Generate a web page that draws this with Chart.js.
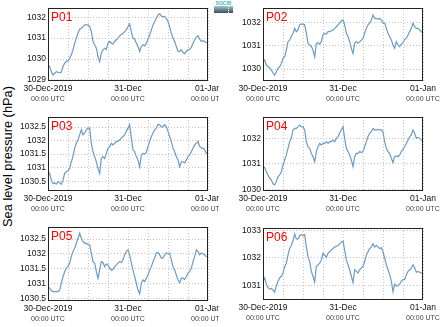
<!DOCTYPE html>
<html><head><meta charset="utf-8">
<script src="https://cdn.jsdelivr.net/npm/chart.js@4.4.1/dist/chart.umd.min.js"></script>
<style>
html,body{margin:0;padding:0;background:#fff;}
body{width:441px;height:327px;position:relative;overflow:hidden;font-family:"Liberation Sans",Arial,sans-serif;}
canvas{position:absolute;}
#ylab{position:absolute;left:-93px;top:150px;width:200px;height:13px;line-height:13px;text-align:center;font-size:12.8px;color:#000;white-space:nowrap;transform:rotate(-90deg);}
#logo{position:absolute;left:214px;top:1px;width:19px;height:12px;}
#logo .t{font-size:5px;line-height:5px;color:#3fb8c4;font-weight:bold;letter-spacing:0px;text-align:center;}
#logo .b{height:7px;background:linear-gradient(#9fc7cc,#3b4d58);position:relative;}
#logo .b i{position:absolute;left:14px;top:0;height:7px;border-left:1px dotted #fff;}
</style></head>
<body>
<div id="ylab">Sea level pressure (hPa)</div>
<div id="logo"><div class="t">SOCIB</div><div class="b"><i></i></div></div>
<canvas id="c1"></canvas><canvas id="c2"></canvas><canvas id="c3"></canvas>
<canvas id="c4"></canvas><canvas id="c5"></canvas><canvas id="c6"></canvas>
<script>
// time axis: hours after 30-Dec-2019 00:00 UTC
const HOURS_SPAN = 48;
const xGridHours = [0, 6, 12, 18, 24, 30, 36, 42, 48];
const xTickHours = [0, 24, 48];
const xTickLabels = ["30-Dec-2019", "31-Dec", "01-Jan"];
const xTickSubLabels = ["00:00 UTC", "00:00 UTC", "00:00 UTC"];
const panelNames = ["P01", "P02", "P03", "P04", "P05", "P06"];

// sea level pressure (hPa), half-hourly
const p01 = [1029.72,1029.64,1029.40,1029.24,1029.32,1029.40,1029.37,1029.35,1029.37,1029.64,
1029.80,1029.88,1029.91,1030.04,1030.20,1030.44,1030.76,1031.00,1031.23,1031.43,
1031.47,1031.55,1031.63,1031.63,1031.63,1031.55,1031.31,1030.84,1030.68,1030.52,
1030.12,1029.88,1030.28,1030.44,1030.52,1030.47,1030.76,1030.84,1030.76,1030.72,
1030.84,1030.92,1031.00,1031.11,1031.17,1031.23,1031.31,1031.39,1031.55,1031.68,
1031.31,1031.00,1030.95,1030.76,1030.60,1030.36,1030.60,1030.68,1030.63,1030.76,
1030.95,1031.15,1031.39,1031.63,1031.79,1031.95,1032.11,1032.16,1032.06,1032.03,
1032.03,1031.95,1031.79,1031.55,1031.23,1031.00,1030.84,1030.60,1030.36,1030.36,
1030.44,1030.31,1030.25,1030.36,1030.44,1030.47,1030.56,1030.76,1030.92,1031.04,
1031.11,1030.95,1030.84,1030.88,1030.84,1030.79,1030.76];
const p02 = [1030.31,1030.39,1030.17,1030.10,1030.06,1029.96,1029.84,1029.74,1029.89,1030.03,
1030.10,1030.24,1030.46,1030.53,1030.81,1031.17,1031.24,1031.39,1031.53,1031.74,
1031.60,1031.67,1031.89,1031.93,1031.91,1031.89,1031.53,1031.10,1031.03,1030.96,
1030.81,1030.53,1031.10,1031.13,1031.06,1031.17,1031.46,1031.53,1031.49,1031.60,
1031.60,1031.64,1031.67,1031.74,1031.81,1031.89,1031.96,1032.07,1032.10,1031.89,
1031.53,1031.39,1031.17,1030.89,1030.67,1031.10,1031.17,1031.10,1031.17,1031.24,
1031.31,1031.53,1031.74,1031.89,1031.96,1032.10,1032.31,1032.17,1032.17,1032.13,
1032.17,1032.10,1031.96,1031.96,1031.74,1031.53,1031.39,1031.24,1031.03,1030.89,
1031.17,1031.03,1030.96,1031.07,1031.13,1031.27,1031.31,1031.46,1031.60,1031.74,
1031.96,1031.81,1031.74,1031.74,1031.67,1031.60,1031.53];
const p03 = [1030.85,1030.79,1030.54,1030.41,1030.44,1030.39,1030.48,1030.44,1030.39,1030.54,
1030.79,1030.85,1030.89,1030.97,1031.22,1031.41,1031.72,1031.90,1032.03,1032.21,
1032.40,1032.21,1032.28,1032.40,1032.46,1032.46,1031.90,1031.59,1031.41,1031.22,
1030.97,1030.79,1031.34,1031.41,1031.34,1031.53,1031.72,1031.78,1031.90,1031.84,
1031.90,1031.97,1031.97,1032.03,1032.09,1032.15,1032.21,1032.34,1032.46,1032.59,
1032.09,1031.66,1031.59,1031.41,1031.28,1031.03,1031.47,1031.53,1031.51,1031.56,
1031.78,1031.97,1032.15,1032.28,1032.40,1032.46,1032.59,1032.59,1032.50,1032.52,
1032.59,1032.52,1032.34,1032.15,1031.97,1031.72,1031.59,1031.41,1031.28,1031.03,
1031.22,1031.22,1031.18,1031.28,1031.41,1031.47,1031.59,1031.72,1031.84,1031.90,
1031.97,1031.78,1031.72,1031.72,1031.66,1031.53,1031.56];
const p04 = [1030.82,1030.86,1030.69,1030.56,1030.43,1030.37,1030.21,1030.17,1030.30,1030.50,
1030.56,1030.69,1030.95,1031.15,1031.35,1031.61,1031.87,1032.00,1032.33,1032.39,
1032.39,1032.46,1032.52,1032.46,1032.46,1032.33,1031.87,1031.67,1031.61,1031.41,
1031.28,1031.08,1031.48,1031.67,1031.80,1031.74,1031.80,1031.80,1031.87,1031.80,
1031.87,1031.87,1031.93,1031.87,1032.00,1032.07,1032.20,1032.33,1032.46,1032.00,
1031.61,1031.48,1031.35,1031.15,1030.89,1031.28,1031.41,1031.41,1031.48,1031.44,
1031.48,1031.67,1031.87,1032.07,1032.20,1032.26,1032.39,1032.33,1032.33,1032.35,
1032.33,1032.33,1032.26,1031.87,1031.61,1031.48,1031.41,1031.22,1031.05,1031.28,
1031.31,1031.28,1031.35,1031.48,1031.57,1031.67,1031.80,1031.93,1032.07,1032.13,
1032.33,1032.20,1032.00,1032.04,1032.00,1031.93,1031.87];
const p05 = [1030.90,1030.84,1030.76,1030.73,1030.73,1030.73,1030.73,1030.78,1031.01,1031.23,
1031.40,1031.52,1031.57,1031.69,1031.91,1032.08,1032.19,1032.36,1032.53,1032.70,
1032.53,1032.42,1032.36,1032.36,1032.31,1032.31,1032.03,1031.74,1031.69,1031.40,
1031.18,1031.46,1031.74,1031.71,1031.57,1031.66,1031.63,1031.52,1031.44,1031.48,
1031.57,1031.63,1031.69,1031.74,1031.71,1031.80,1031.97,1032.08,1032.14,1031.97,
1031.69,1031.46,1031.23,1031.01,1030.78,1030.65,1031.01,1031.12,1031.07,1031.18,
1031.29,1031.46,1031.57,1031.74,1031.86,1032.03,1032.05,1031.97,1031.86,1031.86,
1031.97,1032.03,1032.00,1032.03,1031.80,1031.57,1031.46,1031.29,1031.12,1031.03,
1031.18,1031.18,1031.14,1031.23,1031.35,1031.40,1031.52,1031.74,1031.91,1032.14,
1032.08,1031.97,1032.03,1032.00,1031.97,1031.91,1031.89];
const p06 = [1031.15,1031.27,1031.04,1030.92,1030.86,1030.88,1030.83,1030.74,1030.98,1031.15,
1031.27,1031.33,1031.45,1031.69,1031.81,1032.11,1032.35,1032.46,1032.64,1032.88,
1032.70,1032.70,1032.82,1032.86,1032.82,1032.86,1032.40,1032.05,1031.87,1031.51,
1031.33,1031.12,1031.69,1031.75,1031.81,1031.93,1032.17,1032.11,1032.02,1032.17,
1032.23,1032.29,1032.35,1032.40,1032.43,1032.46,1032.52,1032.58,1032.62,1032.29,
1031.93,1031.75,1031.57,1031.33,1031.10,1031.57,1031.51,1031.45,1031.57,1031.63,
1031.69,1031.87,1032.11,1032.23,1032.35,1032.40,1032.52,1032.40,1032.46,1032.40,
1032.35,1032.38,1032.23,1031.99,1031.75,1031.57,1031.39,1031.15,1030.76,1031.04,
1030.98,1030.98,1031.04,1031.15,1031.21,1031.21,1031.39,1031.51,1031.57,1031.63,
1031.75,1031.63,1031.48,1031.51,1031.48,1031.45,1031.43];

// y-axis ticks and ranges
const yTicks1 = [1029, 1030, 1031, 1032];
const yTicks2 = [1030, 1031, 1032];
const yTicks3 = [1030.5, 1031, 1031.5, 1032, 1032.5];
const yTicks4 = [1030, 1031, 1032];
const yTicks5 = [1030.5, 1031, 1031.5, 1032, 1032.5];
const yTicks6 = [1031, 1032, 1033];
const yRange1 = [1028.95, 1032.44];
const yRange2 = [1029.49, 1032.61];
const yRange3 = [1030.14, 1032.87];
const yRange4 = [1029.93, 1032.84];
const yRange5 = [1030.41, 1032.91];
const yRange6 = [1030.46, 1033.10];

const FONT = '"Liberation Sans", Arial, sans-serif';
const LINE_COLOR = '#6c9bc6';

const panelDecor = {
  id: 'panelDecor',
  afterDraw(chart, args, o) {
    const ctx = chart.ctx, a = chart.chartArea, xs = chart.scales.x;
    ctx.save();
    ctx.strokeStyle = '#222';
    ctx.lineWidth = 1;
    ctx.strokeRect(Math.round(a.left) + 0.5, Math.round(a.top) + 0.5,
      Math.round(a.right - a.left) - 1, Math.round(a.bottom - a.top) - 1);
    ctx.textAlign = 'center';
    ctx.textBaseline = 'middle';
    xTickHours.forEach((h, i) => {
      const px = xs.getPixelForValue(h);
      ctx.fillStyle = '#111';
      ctx.font = '8.5px ' + FONT;
      ctx.fillText(xTickLabels[i], px, a.bottom + 8);
      ctx.fillStyle = '#444';
      ctx.font = '7px ' + FONT;
      ctx.fillText(xTickSubLabels[i], px, a.bottom + 17.7);
    });
    ctx.fillStyle = '#ff0000';
    ctx.font = '12px ' + FONT;
    ctx.textAlign = 'left';
    ctx.textBaseline = 'alphabetic';
    ctx.fillText(o.name, a.left + 3, a.top + 13);
    ctx.restore();
  }
};

function makePanel(id, name, values, yRange, yTicks, box) {
  const cv = document.getElementById(id);
  cv.width = box.w; cv.height = box.h;
  cv.style.left = box.x + 'px'; cv.style.top = box.y + 'px';
  cv.style.width = box.w + 'px'; cv.style.height = box.h + 'px';
  const n = values.length;
  const pts = values.map((v, i) => ({x: i * HOURS_SPAN / (n - 1), y: v}));
  new Chart(cv, {
    type: 'line',
    data: {datasets: [{data: pts, borderColor: LINE_COLOR, borderWidth: 1.2, pointRadius: 0, tension: 0, fill: false}]},
    options: {
      responsive: false, animation: false, devicePixelRatio: 1,
      layout: {padding: {top: box.padTop, right: box.padRight, left: 0, bottom: 0}},
      plugins: {legend: {display: false}, tooltip: {enabled: false}, panelDecor: {name: name}},
      scales: {
        x: {
          type: 'linear', min: 0, max: HOURS_SPAN,
          afterBuildTicks: s => { s.ticks = xGridHours.map(v => ({value: v})); },
          ticks: {display: false},
          grid: {color: '#c4c4c4', lineWidth: 1, drawTicks: false, tickLength: 0},
          border: {display: false, dash: [1, 2]},
          afterFit: s => { s.height = box.xH; s.paddingLeft = 0; s.paddingRight = 0; }
        },
        y: {
          min: yRange[0], max: yRange[1],
          afterBuildTicks: s => { s.ticks = yTicks.map(v => ({value: v})); },
          ticks: {padding: 2, color: '#111', font: {size: 8.5, family: FONT}, callback: v => String(v)},
          grid: {color: '#c4c4c4', lineWidth: 1, drawTicks: false, tickLength: 0},
          border: {display: false, dash: [1, 2]},
          afterFit: s => { s.width = box.yW; s.paddingTop = 0; s.paddingBottom = 0; }
        }
      }
    },
    plugins: [panelDecor]
  });
}

const L = {x: 0, w: 219, yW: 48, padRight: 11};
const R = {x: 220, w: 221, yW: 43, padRight: 18};
makePanel('c1', panelNames[0], p01, yRange1, yTicks1, Object.assign({}, L, {y: 0, h: 110, padTop: 8, xH: 29}));
makePanel('c2', panelNames[1], p02, yRange2, yTicks2, Object.assign({}, R, {y: 0, h: 110, padTop: 8, xH: 29}));
makePanel('c3', panelNames[2], p03, yRange3, yTicks3, Object.assign({}, L, {y: 110, h: 110, padTop: 7, xH: 29}));
makePanel('c4', panelNames[3], p04, yRange4, yTicks4, Object.assign({}, R, {y: 110, h: 110, padTop: 7, xH: 29}));
makePanel('c5', panelNames[4], p05, yRange5, yTicks5, Object.assign({}, L, {y: 220, h: 107, padTop: 7, xH: 26}));
makePanel('c6', panelNames[5], p06, yRange6, yTicks6, Object.assign({}, R, {y: 220, h: 107, padTop: 8, xH: 27}));
</script>
</body></html>
